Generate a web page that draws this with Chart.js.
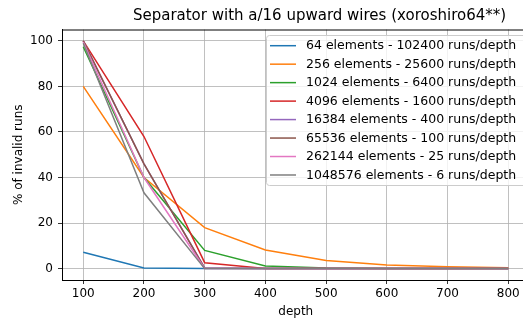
<!DOCTYPE html>
<html>
<head>
<meta charset="utf-8">
<script src="https://cdn.jsdelivr.net/npm/chart.js@4.4.1/dist/chart.umd.min.js"></script>
<style>
  html, body { margin: 0; padding: 0; background: #fff; overflow: hidden; }
  #wrap { width: 540px; height: 321px; }
</style>
</head>
<body>
<div id="wrap"><canvas id="sepChart" width="540" height="321"></canvas></div>
<script>
const depths = [100, 200, 300, 400, 500, 600, 700, 800];
const seriesNames = [
    '64 elements - 102400 runs/depth',
    '256 elements - 25600 runs/depth',
    '1024 elements - 6400 runs/depth',
    '4096 elements - 1600 runs/depth',
    '16384 elements - 400 runs/depth',
    '65536 elements - 100 runs/depth',
    '262144 elements - 25 runs/depth',
    '1048576 elements - 6 runs/depth'
];
const e64 = [7.2, 0.3, 0, 0, 0, 0, 0, 0];
const e256 = [80, 40, 18, 8.2, 3.6, 1.6, 0.8, 0.4];
const e1024 = [97.4, 40, 8, 1.2, 0.3, 0.1, 0, 0];
const e4096 = [100, 58, 2.6, 0.1, 0, 0, 0, 0];
const e16384 = [100, 46, 0.3, 0, 0, 0, 0, 0];
const e65536 = [100, 46, 0.2, 0, 0, 0, 0, 0];
const e262144 = [99.5, 40, 0.1, 0, 0, 0, 0, 0];
const e1048576 = [99, 33.3, 0, 0, 0, 0, 0, 0];
const allSeries = [e64, e256, e1024, e4096, e16384, e65536, e262144, e1048576];
const colors = ['#1f77b4', '#ff7f0e', '#2ca02c', '#d62728', '#9467bd', '#8c564b', '#e377c2', '#7f7f7f'];
const yTicks = [0, 20, 40, 60, 80, 100];

const FONT = 'DejaVu Sans';

// legend drawn inside the plot, matplotlib style
const boxLegend = {
    id: 'boxLegend',
    afterDraw(chart) {
        const c = chart.ctx;
        c.save();
        // top spine
        c.strokeStyle = '#000';
        c.lineWidth = 1;
        c.beginPath();
        c.moveTo(chart.chartArea.left, chart.chartArea.top + 0.5);
        c.lineTo(chart.chartArea.right, chart.chartArea.top + 0.5);
        c.stroke();

        // title
        c.fillStyle = '#000';
        c.font = '15px "' + FONT + '"';
        c.textAlign = 'center';
        c.textBaseline = 'middle';
        c.fillText('Separator with a/16 upward wires (xoroshiro64**)', 319.5, 16);

        const x0 = 266, y0 = 35, w = 300, h = 150;
        c.fillStyle = 'rgba(255,255,255,0.8)';
        c.strokeStyle = '#cccccc';
        c.lineWidth = 1;
        c.beginPath();
        c.roundRect(x0 + 0.5, y0 + 0.5, w, h, 3);
        c.fill();
        c.stroke();

        c.font = '12.5px "' + FONT + '"';
        c.textAlign = 'left';
        chart.data.datasets.forEach((ds, i) => {
            const y = 45.7 + i * 18.47;
            c.strokeStyle = ds.borderColor;
            c.lineWidth = 1.5;
            c.beginPath();
            c.moveTo(270, y);
            c.lineTo(296, y);
            c.stroke();
            c.fillStyle = '#000';
            c.fillText(ds.label, 306, y + 0.5);
        });
        c.restore();
    }
};

const ctx = document.getElementById('sepChart').getContext('2d');
new Chart(ctx, {
    type: 'line',
    data: {
        datasets: allSeries.map((vals, i) => ({
            label: seriesNames[i],
            data: vals.map((v, j) => ({ x: depths[j], y: v })),
            borderColor: colors[i],
            backgroundColor: colors[i],
            borderWidth: 1.5,
            pointRadius: 0,
            tension: 0,
            fill: false,
            order: allSeries.length - i
        }))
    },
    options: {
        responsive: false,
        animation: false,
        layout: { padding: { left: 0, top: 29.5, right: 10.5, bottom: 0 } },
        plugins: {
            legend: { display: false },
            title: { display: false },
            tooltip: { enabled: false }
        },
        scales: {
            x: {
                type: 'linear',
                min: 65,
                max: 835,
                afterFit: (s) => { s.height = 41; },
                afterBuildTicks: (s) => { s.ticks = depths.map(v => ({ value: v })); },
                ticks: { color: '#000', font: { family: FONT, size: 12 }, padding: 3, maxRotation: 0 },
                grid: { color: '#b0b0b0', lineWidth: 0.8, tickLength: 4, tickColor: '#000' },
                border: { color: '#000', width: 1 },
                title: { display: true, text: 'depth', color: '#000', font: { family: FONT, size: 12 }, padding: { top: 0, bottom: 2.1 } }
            },
            y: {
                min: -5,
                max: 105,
                afterFit: (s) => { s.width = 62; },
                afterBuildTicks: (s) => { s.ticks = yTicks.map(v => ({ value: v })); },
                ticks: { color: '#000', font: { family: FONT, size: 12 }, padding: 5 },
                grid: { color: '#b0b0b0', lineWidth: 0.8, tickLength: 4, tickColor: '#000' },
                border: { color: '#000', width: 1 },
                title: { display: true, text: '% of invalid runs', color: '#000', font: { family: FONT, size: 12 }, padding: { top: 11.8, bottom: 0 } }
            }
        }
    },
    plugins: [boxLegend]
});
</script>
</body>
</html>
